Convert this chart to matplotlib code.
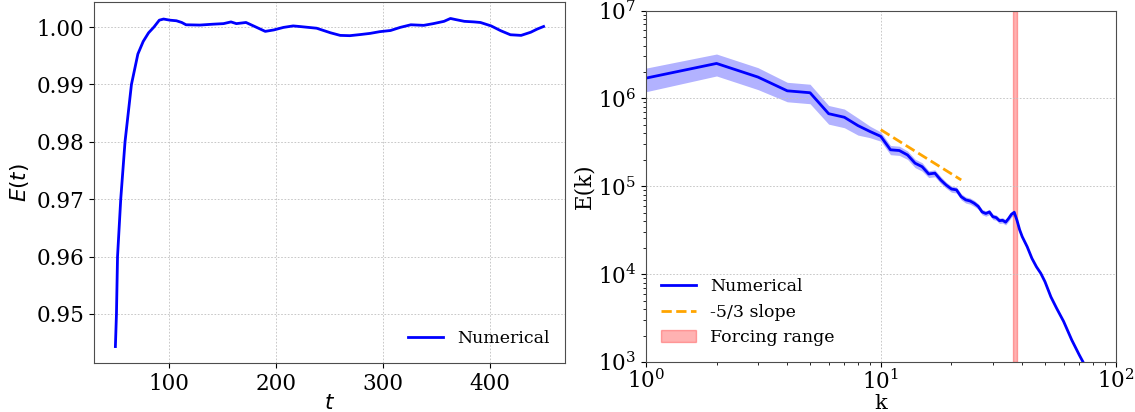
import numpy as np
import matplotlib
matplotlib.use('Agg')
import matplotlib.pyplot as plt

plt.rcParams['font.family'] = 'serif'
plt.rcParams['font.serif'] = ['DejaVu Serif']

# Energy over time
t = [50, 51, 52, 55, 59, 65, 71, 76, 81, 86, 91, 95, 101, 107, 112, 116, 129,
     141, 151, 158, 163, 172, 179, 190, 198, 207, 216, 222, 238, 251, 260, 269,
     279, 288, 297, 307, 316, 326, 338, 347, 357, 363, 368, 376, 385, 391, 401,
     410, 419, 429, 438, 444, 450]
E_t = [0.9443, 0.9500, 0.9600, 0.9700, 0.9800, 0.9900, 0.9953, 0.9975, 0.9990,
       1.0000, 1.0012, 1.0014, 1.0012, 1.0011, 1.0008, 1.0004, 1.00035, 1.0005,
       1.0006, 1.0009, 1.0006, 1.0008, 1.0002, 0.99925, 0.9995, 0.99994, 1.0002,
       1.0001, 0.9998, 0.9990, 0.99855, 0.9985, 0.9987, 0.9989, 0.9992, 0.9994,
       0.99994, 1.0004, 1.0003, 1.0006, 1.0010, 1.0015, 1.0013, 1.0010, 1.0009,
       1.0008, 1.0002, 0.99936, 0.99866, 0.99855, 0.9991, 0.99965, 1.0001]

# Energy spectrum
k = [1, 2, 3, 4, 5, 6, 7, 8, 9, 10, 11, 12, 13, 14, 15, 16, 17, 18, 19, 20,
     21, 22, 23, 24, 25, 26, 27, 28, 29, 30, 31, 32, 33, 34, 35, 36, 37, 38,
     39, 40, 42, 44, 46, 48, 50, 53, 56, 60, 65, 70, 75]
E_k = [1.7e6, 2.5e6, 1.75e6, 1.22e6, 1.16e6, 6.7e5, 6.1e5, 4.9e5, 4.2e5, 3.7e5,
       2.6e5, 2.55e5, 2.27e5, 1.83e5, 1.67e5, 1.38e5, 1.41e5, 1.18e5, 1.03e5,
       9.3e4, 9.1e4, 7.6e4, 7.0e4, 6.8e4, 6.4e4, 5.9e4, 5.1e4, 4.9e4, 5.1e4,
       4.5e4, 4.4e4, 4.06e4, 4.1e4, 3.9e4, 4.3e4, 4.8e4, 5.05e4, 4.1e4, 3.2e4,
       2.67e4, 2.05e4, 1.51e4, 1.21e4, 1.02e4, 8.2e3, 5.5e3, 4.1e3, 2.9e3,
       1.78e3, 1.2e3, 8.5e2]
# relative spread of the shaded band
E_spread = [0.30, 0.28, 0.28, 0.25, 0.25, 0.24, 0.24, 0.22, 0.15, 0.12,
            0.12, 0.12, 0.11, 0.11, 0.11, 0.09, 0.09, 0.09, 0.08, 0.08,
            0.08, 0.08, 0.08, 0.08, 0.08, 0.07, 0.07, 0.07, 0.07, 0.07,
            0.07, 0.07, 0.07, 0.07, 0.07, 0.07, 0.07, 0.02, 0.02, 0.02,
            0.02, 0.02, 0.02, 0.02, 0.02, 0.02, 0.02, 0.02, 0.02, 0.02, 0.02]

slope_k = [10, 22]
slope_E = [4.4e5, 1.18e5]

forcing_range = [36.7, 38.0]

fig = plt.figure(figsize=(11.35, 4.12), dpi=100)
ax1 = fig.add_axes([0.0828, 0.119, 0.415, 0.876])
ax2 = fig.add_axes([0.569, 0.1214, 0.414, 0.853])

# Left: E(t)
ax1.plot(t, E_t, color='blue', lw=2, label='Numerical')
ax1.set_xlabel('$t$', fontsize=15.5, labelpad=-2)
ax1.set_ylabel('$E(t)$', fontsize=15.5)
ax1.set_xticks([100, 200, 300, 400])
ax1.grid(True, linestyle=(0, (2, 2)), linewidth=0.6, color='0.75')
ax1.tick_params(labelsize=15.5)
ax1.legend(loc='lower right', frameon=False, fontsize=12.5)

# Right: E(k)
Ek = np.array(E_k)
sp = np.array(E_spread)
ax2.fill_between(k, Ek * (1 - sp), Ek * (1 + sp), color='blue', alpha=0.3, lw=0)
ax2.loglog(k, Ek, color='blue', lw=2, label='Numerical')
ax2.loglog(slope_k, slope_E, color='orange', ls='--', lw=2, label='-5/3 slope')
ax2.axvspan(forcing_range[0], forcing_range[1], color='red', alpha=0.3,
            label='Forcing range')
ax2.set_xlim(1, 100)
ax2.set_ylim(1e3, 1e7)
ax2.tick_params(labelsize=15.5)
ax2.tick_params(axis='x', pad=2)
ax2.set_xlabel('k', fontsize=15, labelpad=0)
ax2.set_ylabel('E(k)', fontsize=15.5, labelpad=2)
ax2.grid(True, which='major', linestyle=(0, (2, 2)), linewidth=0.6, color='0.75')
ax2.legend(loc='lower left', frameon=False, fontsize=12.5)

for ax in (ax1, ax2):
    for s in ax.spines.values():
        s.set_color('0.3')

fig.savefig('out.png', dpi=100)
